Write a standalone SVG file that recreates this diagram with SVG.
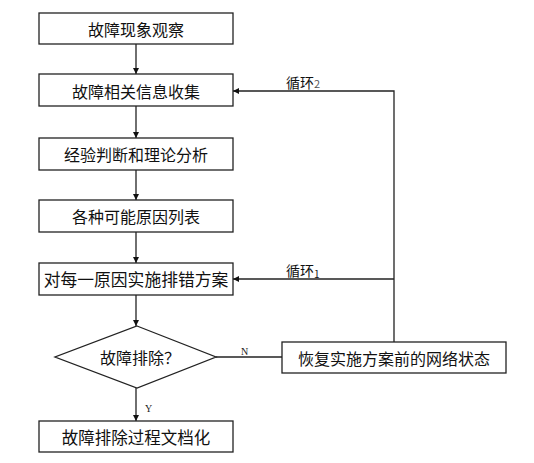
<svg xmlns="http://www.w3.org/2000/svg" width="534" height="463" viewBox="0 0 534 463">
<style>
.box{fill:#fff;stroke:#222;stroke-width:1.3}
.t{font-family:"Noto Sans CJK SC","Noto Sans CJK JP",sans-serif;font-size:16px;fill:#111;text-anchor:middle;dominant-baseline:central}
.l{font-family:"Noto Sans CJK SC",sans-serif;font-size:14px;fill:#111}
.s{font-family:"Liberation Serif",serif;font-size:10px;fill:#222}
.c{fill:none;stroke:#222;stroke-width:1.3}
</style>
<defs>
<marker id="ah" viewBox="0 0 10 10" refX="10" refY="5" markerWidth="7" markerHeight="6" markerUnits="userSpaceOnUse" orient="auto">
<path d="M0,0 L10,5 L0,10 z" fill="#111"/>
</marker>
</defs>
<rect width="534" height="463" fill="#fff"/>
<g id="connectors">
<line class="c" x1="136" y1="44" x2="136" y2="74" marker-end="url(#ah)"/>
<line class="c" x1="136" y1="106" x2="136" y2="138" marker-end="url(#ah)"/>
<line class="c" x1="136" y1="170" x2="136" y2="200" marker-end="url(#ah)"/>
<line class="c" x1="136" y1="232" x2="136" y2="263" marker-end="url(#ah)"/>
<line class="c" x1="136" y1="295" x2="136" y2="326" marker-end="url(#ah)"/>
<line class="c" x1="136" y1="388" x2="136" y2="421" marker-end="url(#ah)"/>
<line class="c" x1="216" y1="357" x2="282" y2="357"/>
<polyline class="c" points="394,342 394,91 233,91" marker-end="url(#ah)"/>
<line class="c" x1="394" y1="279" x2="233" y2="279" marker-end="url(#ah)"/>
<text class="s" x="241" y="355">N</text>
<text class="s" x="145" y="412">Y</text>
<text class="l" x="286" y="88">循环<tspan font-size="11" fill="#555">2</tspan></text>
<text class="l" x="286" y="276">循环<tspan font-size="10" dy="2">1</tspan></text>
</g>
<g id="n1"><rect class="box" x="39" y="13" width="194" height="31"/><text class="t" x="136" y="29">故障现象观察</text></g>
<g id="n2"><rect class="box" x="39" y="74" width="194" height="32"/><text class="t" x="136" y="91">故障相关信息收集</text></g>
<g id="n3"><rect class="box" x="39" y="138" width="194" height="32"/><text class="t" x="136" y="154">经验判断和理论分析</text></g>
<g id="n4"><rect class="box" x="39" y="200" width="194" height="32"/><text class="t" x="136" y="216">各种可能原因列表</text></g>
<g id="n5"><rect class="box" x="39" y="263" width="194" height="32"/><text class="t" x="136" y="279" style="font-size:16.8px">对每一原因实施排错方案</text></g>
<g id="n6"><polygon class="box" points="137,326 216,357 137,388 55,357"/><text class="t" x="140" y="357">故障排除？</text></g>
<g id="n7"><rect class="box" x="39" y="421" width="194" height="31"/><text class="t" x="136" y="437" style="font-size:16.5px">故障排除过程文档化</text></g>
<g id="n8"><rect class="box" x="282" y="342" width="224" height="31"/><text class="t" x="394" y="358">恢复实施方案前的网络状态</text></g>
</svg>
